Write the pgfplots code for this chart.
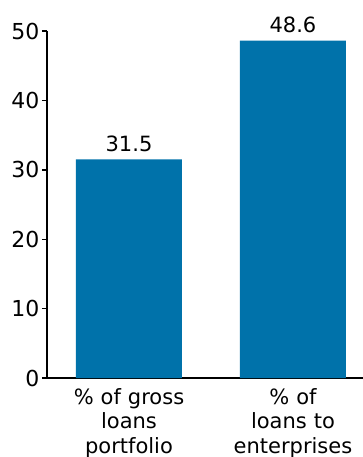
\documentclass[border=0pt]{standalone}
\usepackage{pgfplots}
\pgfplotsset{compat=1.18}
\usepackage{fontspec}
\setmainfont{DejaVu Sans}
\definecolor{barblue}{RGB}{0,114,170}
\begin{document}
\begin{tikzpicture}
\begin{axis}[
  at={(0,0)}, anchor=south west,
  scale only axis,
  width=316pt, height=347pt,
  xmin=-0.5, xmax=1.427,
  ymin=0, ymax=50,
  axis x line*=bottom, axis y line*=left,
  axis line style={line width=1.4pt, black},
  xtick={0,1},
  xticklabels={{\% of gross\\loans\\portfolio},{\% of\\loans to\\enterprises}},
  xticklabel style={font=\fontsize{21}{24.5}\selectfont, align=center, text width=140pt, yshift=-2pt},
  x tick style={draw=none},
  ytick={0,10,20,30,40,50},
  y tick style={line width=1.4pt, black},
  tick align=outside,
  major tick length=5pt,
  yticklabel style={font=\fontsize{22}{26}\selectfont, xshift=1pt},
  /pgf/number format/assume math mode=true,
  ybar, bar width=106pt,
  nodes near coords={\pgfmathprintnumber[fixed,precision=1,fixed zerofill]{\pgfplotspointmeta}},
  nodes near coords style={font=\fontsize{21}{24}\selectfont, black, yshift=4pt},
  clip=false,
]
\addplot[fill=barblue, draw=none] coordinates {(0,31.5) (1,48.6)};
\end{axis}
\pgfresetboundingbox
\path (-47pt,-79pt) rectangle (316pt,378pt);
\end{tikzpicture}
\end{document}
